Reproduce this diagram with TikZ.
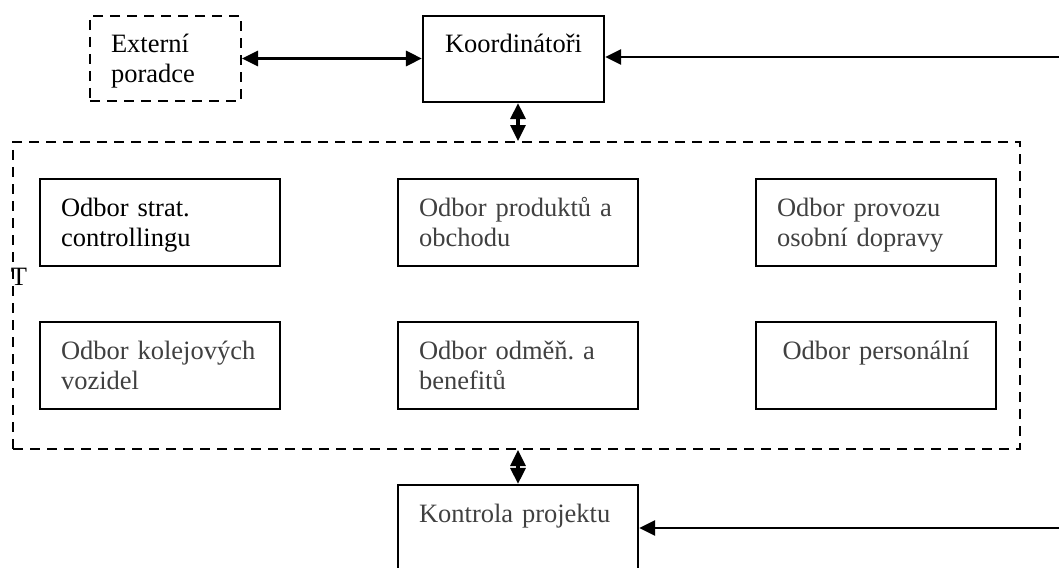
\documentclass[tikz,border=0pt]{standalone}
\usepackage{fontspec}
\setmainfont{Liberation Serif}
\usetikzlibrary{arrows.meta,positioning}
\definecolor{sedy}{HTML}{404040}
\frenchspacing

\begin{document}
\begin{tikzpicture}[x=0.5pt,y=-0.5pt,node distance=71.25pt and 179pt,on grid,
	>={Triangle[length=8pt,width=7.5pt]},
	every node/.style={font=\fontsize{13.25}{15}\selectfont},
	odbor/.style={draw,line width=1pt,inner xsep=10.5pt,inner ysep=0pt,text width=99pt,
		minimum height=43.5pt,align=left,text height=11pt,text depth=17pt,text=sedy},
	skupina/.style={draw,dash pattern=on 5pt off 3.5pt,line width=1pt,inner sep=0pt},
	sipka/.style={<->,line width=1.6pt},
	vstup/.style={->,line width=1.4pt}]
	\useasboundingbox (0,0) rectangle (1059,567);

	% odbory uvnitr projektu
	\node[odbor,text=black] (strat) at (160,222.5) {Odbor strat.\\controllingu};
	\node[odbor] (prod) [right=of strat] {Odbor produktů a\\obchodu};
	\node[odbor] (provoz) [right=of prod] {Odbor provozu\\osobní dopravy};
	\node[odbor] (kolej) [below=of strat] {Odbor kolejových\\vozidel};
	\node[odbor] (odmen) [below=of prod] {Odbor odměň. a\\benefitů};
	\node[odbor,align=center] (perso) [below=of provoz] {Odbor personální};

	\node[skupina,minimum width=503.5pt,minimum height=153.5pt] (grp) at (516.5,295.5) {};
	\node (tt) at (19,277) {T};

	% nahore a dole
	\node[odbor,skupina,text=black,inner xsep=10.5pt,text width=54.5pt,minimum height=42.5pt] (ext) at (165.5,58.5) {Externí\\poradce};
	\node[odbor,text=black,line width=1.1pt,text width=69.5pt,minimum height=43pt,align=center] (koord) at (513.5,59) {Koordinátoři};
	\node[odbor,line width=1.1pt] (kontr) at (518,528.5) {Kontrola projektu};

	\coordinate (vstupK) at (1059,57);
	\coordinate (vstupP) at (1059,528);

	\draw[sipka] (ext.east) -- (ext.east -| koord.west);
	\draw[vstup] (vstupK) -- (vstupK -| koord.east);
	\draw[sipka] (kontr.north |- koord.south) -- (kontr.north |- grp.north);
	\draw[sipka] (kontr.north |- grp.south) -- (kontr.north);
	\draw[vstup] (vstupP) -- (vstupP -| kontr.east);
\end{tikzpicture}
\end{document}
